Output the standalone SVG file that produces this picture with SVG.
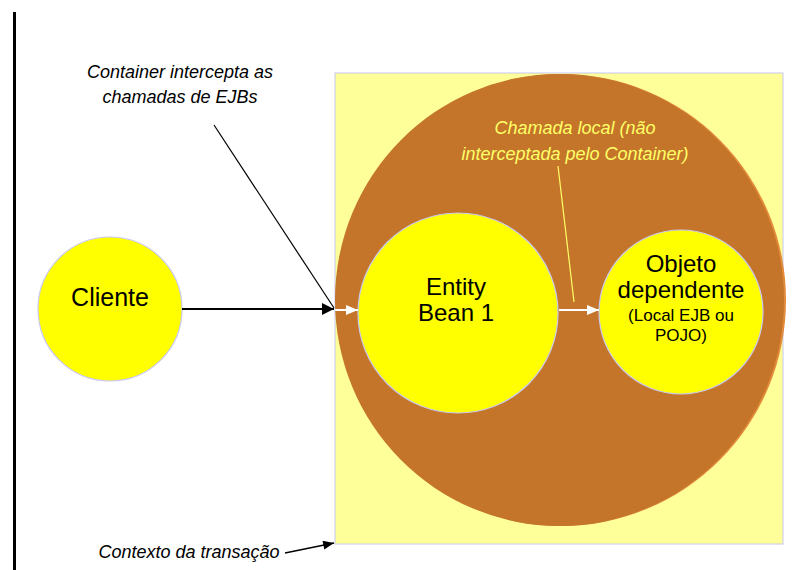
<svg xmlns="http://www.w3.org/2000/svg" width="802" height="570" viewBox="0 0 802 570">
  <style>
    .node { fill: #FFFF00; stroke: #C8C8F0; stroke-width: 1.2; }
    .label { font-family: "Liberation Sans", Arial, sans-serif; fill: #000; text-anchor: middle; }
    .note { font-family: "Liberation Sans", Arial, sans-serif; font-style: italic; font-size: 18px; fill: #000; text-anchor: middle; }
    .note-local { fill: #FFFF66; }
  </style>
  <defs>
    <marker id="arrowBlack" viewBox="0 0 12 12" refX="12" refY="6" markerWidth="12" markerHeight="12" markerUnits="userSpaceOnUse" orient="auto">
      <path d="M0,0 L12,6 L0,12 Z" fill="#000"/>
    </marker>
    <marker id="arrowSmall" viewBox="0 0 12 10" refX="12" refY="5" markerWidth="12" markerHeight="9" markerUnits="userSpaceOnUse" orient="auto">
      <path d="M0,0 L12,5 L0,10 Z" fill="#000"/>
    </marker>
    <marker id="arrowWhite" viewBox="0 0 12 10" refX="12" refY="5" markerWidth="12" markerHeight="10" markerUnits="userSpaceOnUse" orient="auto">
      <path d="M0,0 L12,5 L0,10 Z" fill="#FFF"/>
    </marker>
  </defs>

  <rect width="802" height="570" fill="#FFFFFF"/>

  <!-- boundary bar on the left -->
  <rect x="13" y="12" width="3" height="558" fill="#000"/>

  <!-- transaction context -->
  <g id="contexto">
    <rect x="335" y="73" width="448" height="471" fill="#FFFF99" stroke="#C8C8F0" stroke-width="1"/>
  </g>

  <!-- container: lighter rim shows on the right side -->
  <g id="container">
    <ellipse cx="561" cy="300" rx="225" ry="226" fill="#E38B3A"/>
    <ellipse cx="559.5" cy="300" rx="224.5" ry="226" fill="#C4752A"/>
  </g>

  <g id="cliente">
    <circle class="node" cx="110" cy="309" r="72"/>
    <text class="label" x="110" y="306" font-size="25">Cliente</text>
  </g>

  <g id="entity-bean">
    <circle class="node" cx="458" cy="313" r="100"/>
    <text class="label" x="456" y="295" font-size="24">Entity</text>
    <text class="label" x="456" y="321" font-size="24">Bean 1</text>
  </g>

  <g id="objeto-dependente">
    <circle class="node" cx="681" cy="312" r="82"/>
    <text class="label" x="681" y="272" font-size="24">Objeto</text>
    <text class="label" x="681" y="298" font-size="24">dependente</text>
    <text class="label" x="681" y="321" font-size="17">(Local EJB ou</text>
    <text class="label" x="681" y="341" font-size="17">POJO)</text>
  </g>

  <!-- annotations -->
  <g id="nota-container">
    <text class="note" x="180" y="78">Container intercepta as</text>
    <text class="note" x="180" y="103">chamadas de EJBs</text>
  </g>
  <g id="nota-local">
    <text class="note note-local" x="575" y="134">Chamada local (não</text>
    <text class="note note-local" x="575" y="160">interceptada pelo Container)</text>
  </g>
  <g id="nota-contexto">
    <text class="note" x="189" y="558">Contexto da transação</text>
  </g>

  <!-- connectors -->
  <g id="connectors">
    <line x1="182" y1="309" x2="334" y2="309" stroke="#000" stroke-width="2" marker-end="url(#arrowBlack)"/>
    <line x1="335" y1="310" x2="358" y2="310" stroke="#FFF" stroke-width="2" marker-end="url(#arrowWhite)"/>
    <line x1="559" y1="310" x2="599" y2="310" stroke="#FFF" stroke-width="2" marker-end="url(#arrowWhite)"/>
    <line x1="214" y1="125" x2="334" y2="308" stroke="#000" stroke-width="1.2"/>
    <line x1="558" y1="166" x2="574" y2="302" stroke="#FFFF66" stroke-width="1.2"/>
    <line x1="285" y1="553" x2="334" y2="543" stroke="#000" stroke-width="1.5" marker-end="url(#arrowSmall)"/>
  </g>
</svg>
